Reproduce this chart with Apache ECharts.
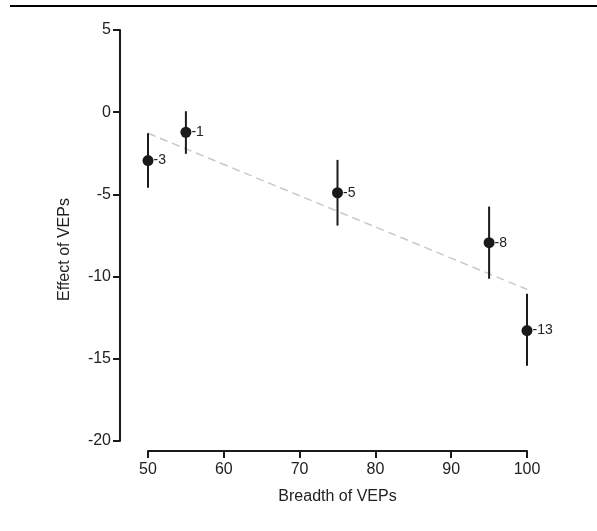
<!DOCTYPE html>
<html>
<head>
<meta charset="utf-8">
<script src="https://cdn.jsdelivr.net/npm/echarts@6/dist/echarts.min.js"></script>
<style>html,body{margin:0;padding:0;background:#fff;}#c{width:597px;height:531px;}</style>
</head>
<body>
<div id="c"></div>
<script>
const breadth = [50, 55, 75, 95, 100];
const effect = [-2.94, -1.22, -4.9, -7.94, -13.28];
const errLow = [-4.6, -2.53, -6.9, -10.13, -15.43];
const errHigh = [-1.28, 0.06, -2.9, -5.74, -11.05];
const pointLabels = ['-3', '-1', '-5', '-8', '-13'];
const trendX = [50, 100];
const trendY = [-1.28, -10.78];

const FONT = 'Liberation Sans, Arial, sans-serif';
const INK = '#1a1a1a';
const TXT = '#222';

const chart = echarts.init(document.getElementById('c'), null, {renderer: 'canvas'});
chart.setOption({
  animation: false,
  backgroundColor: '#fff',
  grid: {left: 148, right: 70, top: 30, bottom: 90},
  graphic: [{
    type: 'line', shape: {x1: 10, y1: 6, x2: 597, y2: 6},
    style: {stroke: '#000', lineWidth: 2}
  }],
  xAxis: {
    type: 'value', min: 50, max: 100, interval: 10, offset: 10,
    name: 'Breadth of VEPs', nameLocation: 'middle', nameGap: 38,
    nameTextStyle: {fontFamily: FONT, fontSize: 16, color: TXT},
    axisLine: {show: true, onZero: false, lineStyle: {color: INK, width: 2}},
    axisTick: {show: true, length: 7, inside: false, lineStyle: {color: INK, width: 2}},
    axisLabel: {fontFamily: FONT, fontSize: 16, color: TXT, margin: 11},
    splitLine: {show: false}
  },
  yAxis: {
    type: 'value', min: -20, max: 5, interval: 5, offset: 28,
    name: 'Effect of VEPs', nameLocation: 'middle', nameGap: 47,
    nameTextStyle: {fontFamily: FONT, fontSize: 16, color: TXT, padding: [0, 0, 0, -28]},
    axisLine: {show: true, onZero: false, lineStyle: {color: INK, width: 2}},
    axisTick: {show: true, length: 7, lineStyle: {color: INK, width: 2}},
    axisLabel: {fontFamily: FONT, fontSize: 16, color: TXT, margin: 9},
    splitLine: {show: false}
  },
  series: [
    {
      type: 'line',
      data: trendX.map((x, i) => [x, trendY[i]]),
      symbol: 'none',
      lineStyle: {color: '#c8c8c8', width: 1.5, type: [8, 5]},
      z: 1
    },
    {
      type: 'custom',
      data: breadth.map((x, i) => [x, errLow[i], errHigh[i]]),
      renderItem: function (params, api) {
        const p1 = api.coord([api.value(0), api.value(1)]);
        const p2 = api.coord([api.value(0), api.value(2)]);
        return {type: 'line', shape: {x1: p1[0], y1: p1[1], x2: p2[0], y2: p2[1]},
          style: {stroke: INK, lineWidth: 2}};
      },
      z: 2
    },
    {
      type: 'scatter',
      data: breadth.map((x, i) => [x, effect[i]]),
      symbol: 'circle', symbolSize: 11,
      itemStyle: {color: INK, opacity: 1},
      label: {
        show: true, position: 'right', distance: 0,
        formatter: p => pointLabels[p.dataIndex],
        fontFamily: FONT, fontSize: 14, color: TXT
      },
      z: 3
    }
  ]
});
</script>
</body>
</html>
